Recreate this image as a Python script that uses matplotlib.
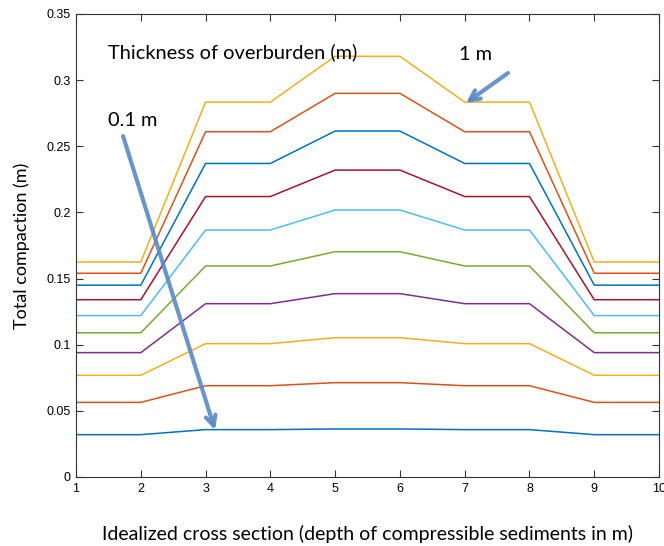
import matplotlib
matplotlib.use("Agg")
import matplotlib.pyplot as plt

x = [1, 2, 3, 4, 5, 6, 7, 8, 9, 10]

# levels: [edge (x=1,2,9,10), shoulder (x=3,4,7,8), centre (x=5,6)]
levels = [
    [0.0320, 0.0358, 0.0363],
    [0.0564, 0.0690, 0.0713],
    [0.0769, 0.1008, 0.1053],
    [0.0940, 0.1310, 0.1386],
    [0.1090, 0.1595, 0.1703],
    [0.1220, 0.1867, 0.2018],
    [0.1340, 0.2120, 0.2320],
    [0.1450, 0.2370, 0.2615],
    [0.1540, 0.2610, 0.2900],
    [0.1625, 0.2834, 0.3180],
]

colors = ["#0072BD", "#D95319", "#EDB120", "#7E2F8E", "#77AC30",
          "#4DBEEE", "#A2142F", "#0072BD", "#D95319", "#EDB120"]

x_ticks = [1, 2, 3, 4, 5, 6, 7, 8, 9, 10]
y_ticks = [0, 0.05, 0.1, 0.15, 0.2, 0.25, 0.3, 0.35]
y_labels = ["0", "0.05", "0.1", "0.15", "0.2", "0.25", "0.3", "0.35"]

fig = plt.figure(figsize=(6.64, 5.46), dpi=100)
ax = fig.add_axes([0.1145, 0.1264, 0.878, 0.848])

for lv, c in zip(levels, colors):
    e, s, m = lv
    y = [e, e, s, s, m, m, s, s, e, e]
    ax.plot(x, y, color=c, lw=1.1)

ax.set_xlim(1, 10)
ax.set_ylim(0, 0.35)
ax.set_xticks(x_ticks)
ax.set_xticklabels([str(v) for v in x_ticks], fontfamily="Liberation Sans", fontsize=9)
ax.set_yticks(y_ticks)
ax.set_yticklabels(y_labels, fontfamily="Liberation Sans", fontsize=9)
ax.tick_params(direction="in", top=True, right=True, length=5, width=0.8, color="#333333", pad=4)
for sp in ax.spines.values():
    sp.set_color("#333333")
    sp.set_linewidth(0.8)

ax.set_xlabel("Idealized cross section (depth of compressible sediments in m)",
              fontfamily="Lato", fontsize=14, labelpad=22)
ax.set_ylabel("Total compaction (m)", fontfamily="Lato", fontsize=13, labelpad=12)

ax.text(1.494, 0.3212, "Thickness of overburden (m)", fontfamily="Lato", fontsize=14.4,
        va="center", ha="left")
ax.text(1.494, 0.2698, "0.1 m", fontfamily="Lato", fontsize=14.4, va="center", ha="left")
ax.text(6.91, 0.3197, "1 m", fontfamily="Lato", fontsize=14.4, va="center", ha="left")

arrow_color = "#5A8AC6"
ax.annotate("", xy=(3.146, 0.0355), xytext=(1.726, 0.2577),
            arrowprops=dict(arrowstyle="->", color=arrow_color, lw=3, alpha=0.9,
                            mutation_scale=18, shrinkA=0, shrinkB=0))
ax.annotate("", xy=(7.02, 0.2827), xytext=(7.669, 0.3054),
            arrowprops=dict(arrowstyle="->", color=arrow_color, lw=3, alpha=0.9,
                            mutation_scale=18, shrinkA=0, shrinkB=0))

fig.savefig("out.png", dpi=100)
